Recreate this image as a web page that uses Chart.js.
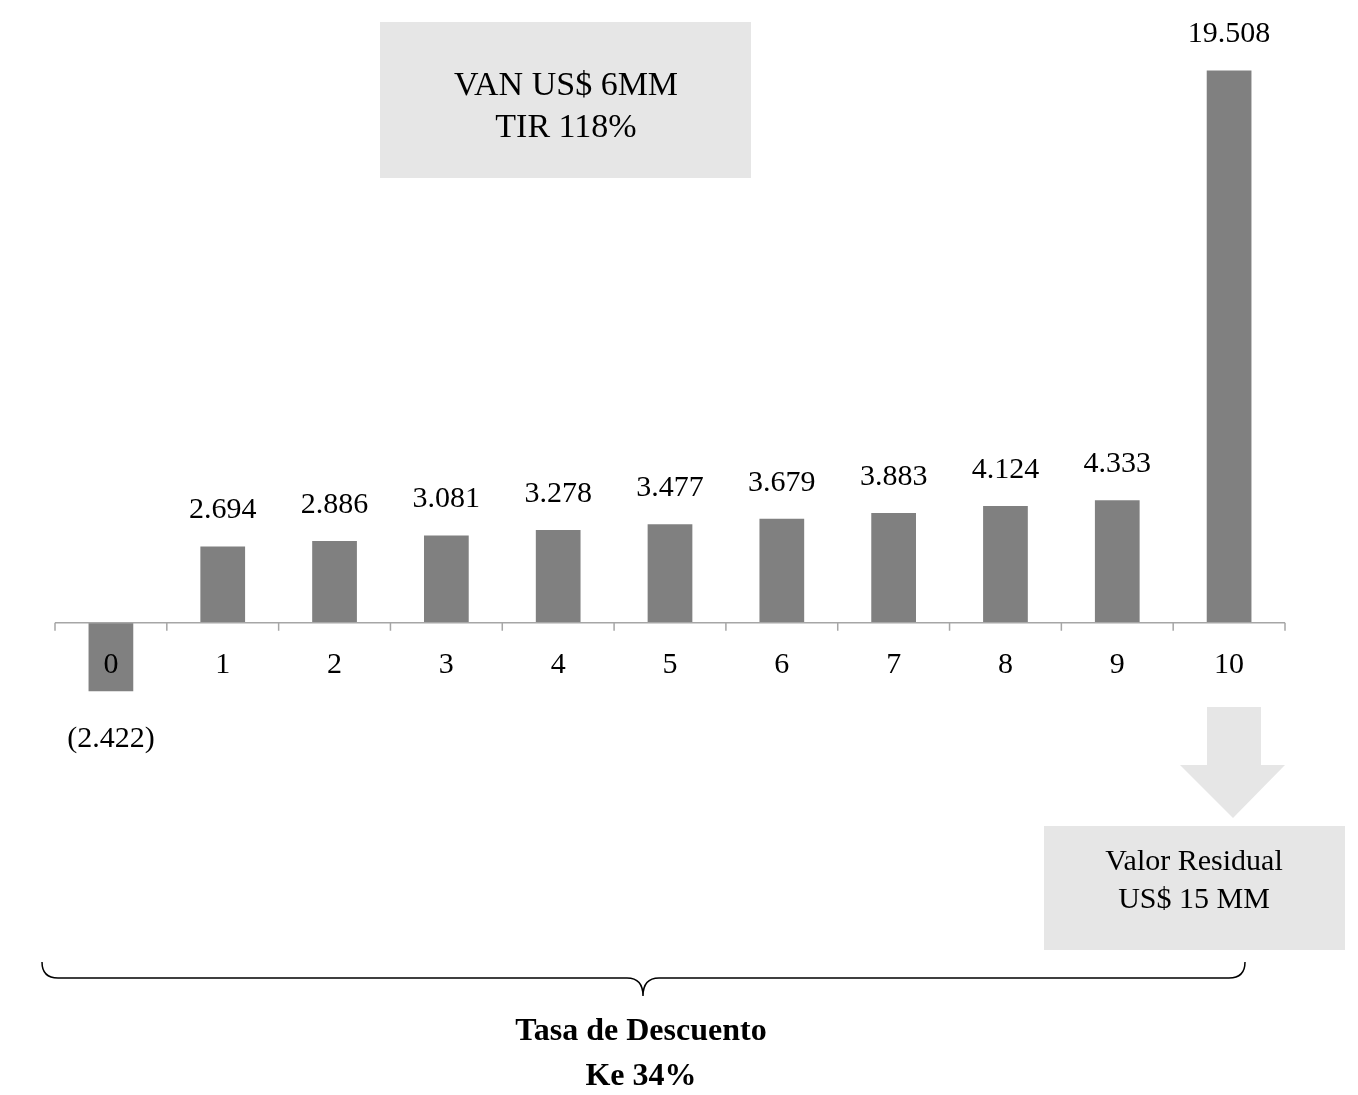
<!DOCTYPE html>
<html><head><meta charset="utf-8">
<script src="https://cdn.jsdelivr.net/npm/chart.js@4"></script>
<style>html,body{margin:0;background:#fff}#wrap{width:1358px;height:1095px}</style>
</head><body><div id="wrap"><canvas id="myChart"></canvas></div>
<script>
var periods = ['0','1','2','3','4','5','6','7','8','9','10'];
var flows = [-2422, 2694, 2886, 3081, 3278, 3477, 3679, 3883, 4124, 4333, 19508];
var summaryText = ['VAN US$ 6MM', 'TIR 118%'];
var residualText = ['Valor Residual', 'US$ 15 MM'];
var rateText = ['Tasa de Descuento', 'Ke 34%'];

var serif = '"Liberation Serif", "Times New Roman", serif';

function fmt(v) {
  var s = Math.abs(v).toString();
  s = s.slice(0, -3) + '.' + s.slice(-3);
  return v < 0 ? '(' + s + ')' : s;
}

var decor = {
  id: 'decor',
  afterDatasetsDraw: function (chart) {
    var c = chart.ctx, x = chart.scales.x, y = chart.scales.y;
    var y0 = y.getPixelForValue(0);
    var left = chart.chartArea.left, right = chart.chartArea.right;
    c.save();
    // axis line and ticks
    c.strokeStyle = '#a6a6a6'; c.lineWidth = 1.5;
    c.beginPath(); c.moveTo(left, y0); c.lineTo(right, y0);
    var step = (right - left) / periods.length;
    for (var i = 0; i <= periods.length; i++) {
      c.moveTo(left + i * step, y0); c.lineTo(left + i * step, y0 + 8);
    }
    c.stroke();
    c.fillStyle = '#000'; c.textAlign = 'center'; c.textBaseline = 'middle';
    c.font = '30px ' + serif;
    var meta = chart.getDatasetMeta(0);
    periods.forEach(function (p, i) {
      var px = x.getPixelForValue(i);
      c.fillText(p, px, y0 + 42);
      var bar = meta.data[i];
      if (flows[i] >= 0) c.fillText(fmt(flows[i]), px, bar.y - 36);
      else c.fillText(fmt(flows[i]), px, bar.y + 48);
    });
    // summary box
    c.fillStyle = '#e6e6e6'; c.fillRect(380, 22, 371, 156);
    c.fillStyle = '#000'; c.font = '34px ' + serif;
    c.fillText(summaryText[0], 566, 86); c.fillText(summaryText[1], 566, 128);
    // arrow
    c.fillStyle = '#e6e6e6';
    c.fillRect(1207, 707, 54, 58);
    c.beginPath(); c.moveTo(1180, 765); c.lineTo(1285, 765); c.lineTo(1233, 818); c.closePath(); c.fill();
    c.fillRect(1044, 826, 301, 124);
    c.fillStyle = '#000'; c.font = '30px ' + serif;
    c.fillText(residualText[0], 1194, 862); c.fillText(residualText[1], 1194, 900);
    // brace
    c.strokeStyle = '#000'; c.lineWidth = 1.5;
    c.beginPath();
    c.moveTo(42, 962); c.quadraticCurveTo(42, 978, 58, 978);
    c.lineTo(627, 978); c.quadraticCurveTo(643, 978, 643, 996);
    c.quadraticCurveTo(643, 978, 659, 978);
    c.lineTo(1229, 978); c.quadraticCurveTo(1245, 978, 1245, 962);
    c.stroke();
    c.font = 'bold 32px ' + serif;
    c.fillText(rateText[0], 641, 1032); c.fillText(rateText[1], 641, 1077);
    c.restore();
  }
};

new Chart(document.getElementById('myChart'), {
  type: 'bar',
  data: {
    labels: periods,
    datasets: [{ data: flows, backgroundColor: '#808080', barPercentage: 0.4, categoryPercentage: 1 }]
  },
  options: {
    responsive: true, maintainAspectRatio: false, animation: false,
    layout: { padding: { left: 55, right: 73, top: 0, bottom: 0 } },
    plugins: { legend: { display: false }, tooltip: { enabled: false } },
    scales: {
      x: { display: false },
      y: { display: false, min: -16680, max: 22000 }
    }
  },
  plugins: [decor]
});
</script></body></html>
